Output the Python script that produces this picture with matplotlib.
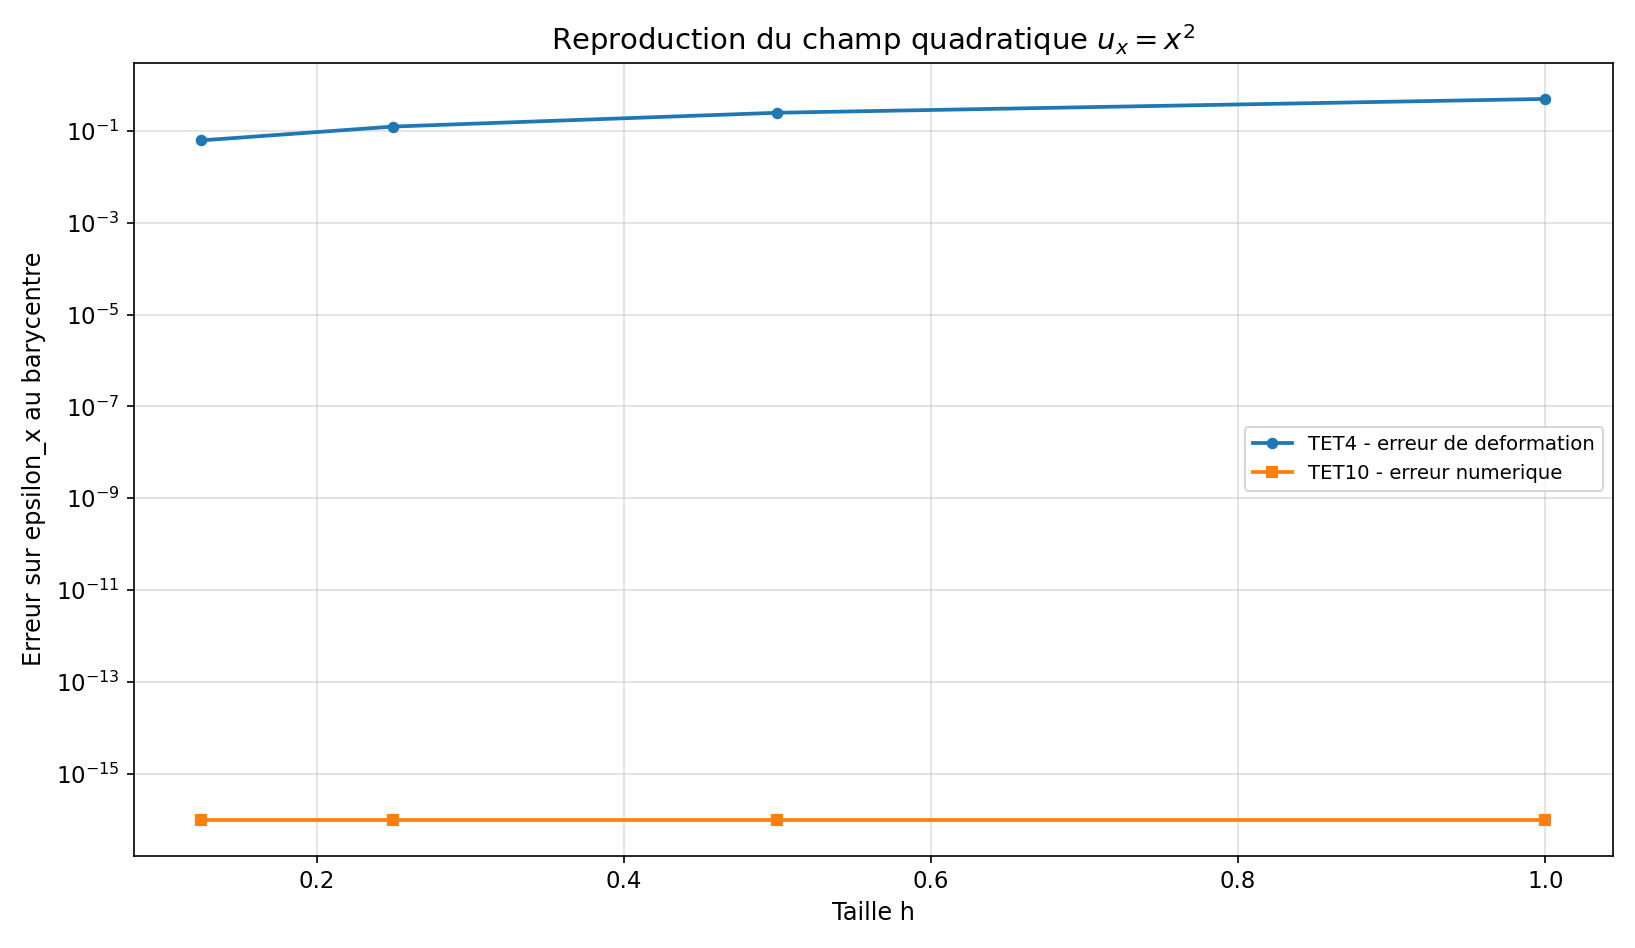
import matplotlib
matplotlib.use("Agg")
import matplotlib.pyplot as plt

h = [0.125, 0.25, 0.5, 1.0]
tet4 = [0.0625, 0.125, 0.25, 0.5]
tet10 = [1e-16, 1e-16, 1e-16, 1e-16]

fig, ax = plt.subplots(figsize=(10.9, 6.32), dpi=150)
ax.semilogy(h, tet4, marker='o', markersize=4.5, linewidth=1.8, label='TET4 - erreur de deformation')
ax.semilogy(h, tet10, marker='s', markersize=4.5, linewidth=1.8, label='TET10 - erreur numerique')
ax.grid(True, alpha=0.4)
ax.tick_params(labelsize=11)
ax.set_xlabel('Taille h', fontsize=11.5)
ax.set_ylabel('Erreur sur epsilon_x au barycentre', fontsize=11.5)
ax.set_title(r'Reproduction du champ quadratique $u_x = x^2$', fontsize=14)
ax.legend(loc='center right', fontsize=9.5)
fig.tight_layout()
fig.savefig('out.png', dpi=150)
